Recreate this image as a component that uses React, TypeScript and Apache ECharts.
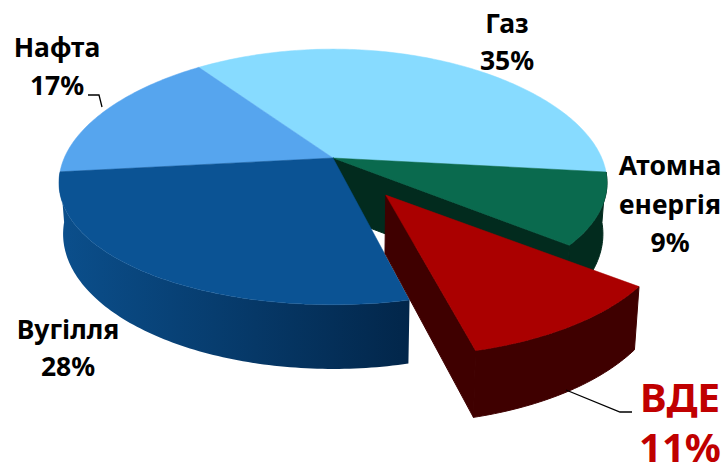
import React, { useEffect, useRef } from "react";
import * as echarts from "echarts";

// Pie order, clockwise from the gas slice
const names = ["Газ", "Атомна\nенергія", "ВДЕ", "Вугілля", "Нафта"];
const values = [35.4, 9.4, 10.7, 27.9, 16.6];
const topColors = ["#87DBFF", "#0A6A4E", "#AA0000", "#0B5394", "#56A5EE"];
const paintOrder = [0, 4, 1, 3, 2];
const explode = [0, 0, 0.34, 0, 0];
const labelX = [507, 670, 680, 68, 57];
const nameY = [23, 184, 396, 329, 47];
const pctY = [60, 242, 446, 366, 85];
const labelSize = [26.5, 26.5, 40, 26.5, 26.5];
const nameLine = [34, 39, 40, 34, 34];
const pctLine = [30, 30, 34, 30, 30];
const labelColor = ["#000", "#000", "#C00000", "#000", "#000"];

const START = -33.8;
const CX = 333, CY = 158, RX = 271, RY = 125, P = 0.148;
const K = 0.985, CYB = 214, RYB = 132, BULGE = 6;

const total = values.reduce((a, b) => a + b, 0);
const rad = (d: number) => (d * Math.PI) / 180;
const ranges: [number, number][] = [];
{
  let a = START;
  for (const v of values) {
    const b = a + (v / total) * 360;
    ranges.push([a, b]);
    a = b;
  }
}

function project(X: number, Y: number, bottom: boolean, bulge = 0): number[] {
  const s = 1 / (1 + P * Y);
  return bottom
    ? [CX + K * RX * X * s, CYB - RYB * Y * s]
    : [CX + RX * X * s, CY - RY * Y * s + bulge * X * X];
}

function sliceGeom(i: number) {
  const [a, b] = ranges[i];
  const mid = rad((a + b) / 2);
  const ox = explode[i] * Math.sin(mid);
  const oy = explode[i] * Math.cos(mid);
  const bulge = explode[i] ? 0 : BULGE;
  const arc = (bottom: boolean) => {
    const pts: number[][] = [];
    const n = Math.ceil(b - a);
    for (let j = 0; j <= n; j++) {
      const t = rad(a + ((b - a) * j) / n);
      pts.push(project(Math.sin(t) + ox, Math.cos(t) + oy, bottom, bulge));
    }
    return pts;
  };
  return {
    top: arc(false),
    bot: arc(true),
    apexTop: project(ox, oy, false),
    apexBot: project(ox, oy, true),
  };
}

const poly = (points: number[][], fill: any, lineWidth = 0.5) => ({
  type: "polygon",
  shape: { points },
  style: { fill, stroke: typeof fill === "string" ? fill : undefined, lineWidth },
});

const hGrad = (c0: string, c1: string) => ({
  type: "linear", x: 0, y: 0, x2: 1, y2: 0,
  colorStops: [{ offset: 0, color: c0 }, { offset: 1, color: c1 }],
});

function renderItem(params: any) {
  const i = paintOrder[params.dataIndex];
  const g = sliceGeom(i);
  const children: any[] = [];
  const n = g.top.length - 1;
  const outer = g.top.concat(g.bot.slice().reverse());
  if (i === 1) {
    children.push(poly(outer, "#022B1E", 1));
    children.push(poly([g.apexTop, g.top[n], g.bot[n], g.apexBot], "#022B1E", 1));
  } else if (i === 2) {
    children.push(poly(outer, "#3F0000", 1));
    children.push(poly([g.apexTop, g.top[n], g.bot[n], g.apexBot], "#3F0000", 1));
  } else if (i === 3) {
    children.push(poly(outer, hGrad("#0B4F8C", "#02264A")));
  }
  children.push(poly([g.apexTop].concat(g.top), topColors[i]));
  const font = `bold ${labelSize[i]}px "Noto Sans", sans-serif`;
  children.push({
    type: "text",
    z2: 100,
    style: {
      x: labelX[i], y: nameY[i], text: names[i], fill: labelColor[i], font,
      lineHeight: nameLine[i], align: "center", verticalAlign: "middle",
    },
  });
  children.push({
    type: "text",
    z2: 100,
    style: {
      x: labelX[i], y: pctY[i], text: Math.round(values[i]) + "%", fill: labelColor[i], font,
      lineHeight: pctLine[i], align: "center", verticalAlign: "middle",
    },
  });
  return { type: "group", children };
}

export default function App() {
  const ref = useRef<HTMLDivElement>(null);
  useEffect(() => {
    document.body.style.margin = "0";
    const chart = echarts.init(ref.current!, null, { renderer: "svg" });
    chart.setOption({
      animation: false,
      backgroundColor: "#fff",
      series: [
        {
          type: "custom",
          coordinateSystem: "none",
          data: paintOrder.map((i) => values[i]),
          renderItem,
          silent: true,
        },
      ],
      graphic: [
        {
          type: "polyline",
          z: 50,
          shape: { points: [[88, 95], [99, 95], [102, 107]] },
          style: { stroke: "#000", lineWidth: 1.3, fill: "none" },
        },
        {
          type: "polyline",
          z: 50,
          shape: { points: [[566, 390], [620, 412], [632, 412]] },
          style: { stroke: "#000", lineWidth: 1.3, fill: "none" },
        },
      ],
    });
    return () => chart.dispose();
  }, []);
  return <div ref={ref} style={{ width: 724, height: 473 }} />;
}
